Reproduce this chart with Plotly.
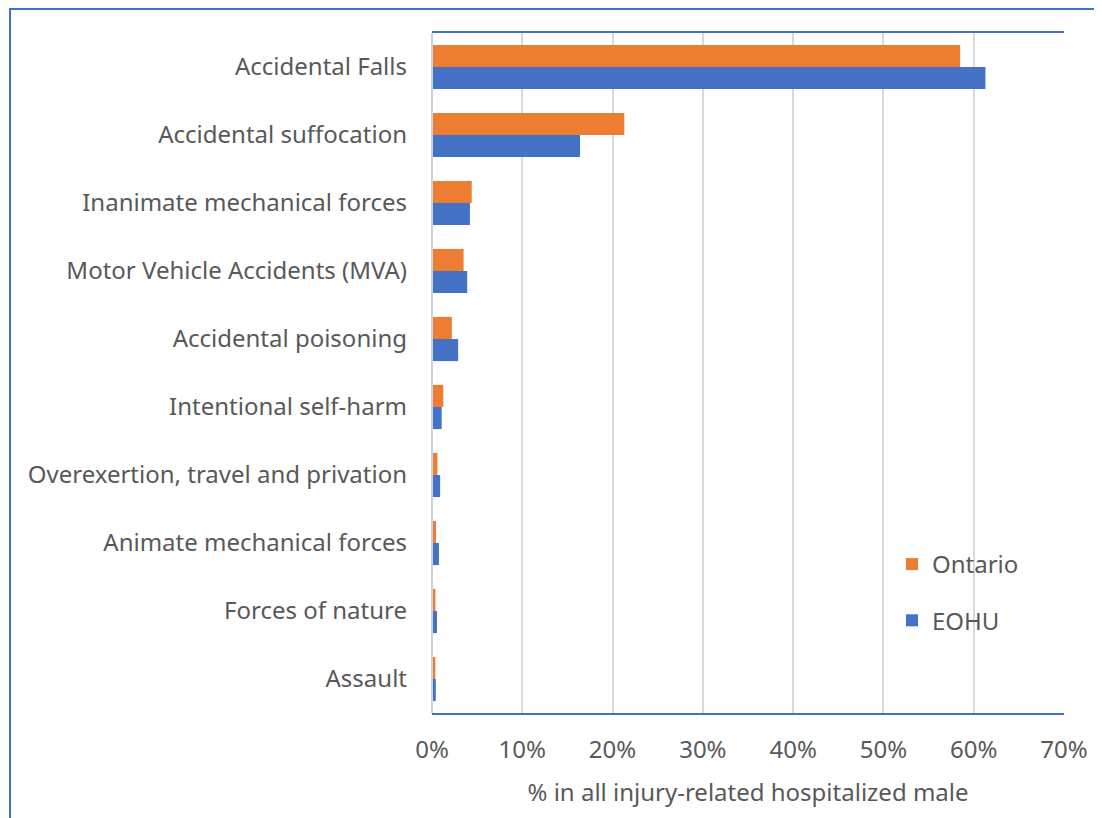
import plotly.graph_objects as go

categories = [
    "Accidental Falls",
    "Accidental suffocation",
    "Inanimate mechanical forces",
    "Motor Vehicle Accidents (MVA)",
    "Accidental poisoning",
    "Intentional self-harm",
    "Overexertion, travel and privation",
    "Animate mechanical forces",
    "Forces of nature",
    "Assault",
]
ontario = [58.5, 21.3, 4.4, 3.5, 2.2, 1.25, 0.6, 0.45, 0.38, 0.37]
eohu = [61.3, 16.4, 4.2, 3.9, 2.9, 1.07, 0.9, 0.77, 0.55, 0.42]
x_ticks = [0, 10, 20, 30, 40, 50, 60, 70]
x_tick_labels = ["0%", "10%", "20%", "30%", "40%", "50%", "60%", "70%"]

ORANGE = "#ED7D31"
BLUE = "#4472C4"
TXT = "#595959"
FONT = "Noto Sans"

OFF = 8  # page body margin offset
W, H = 1102 - OFF, 818 - OFF
L, R, T, B = 432 - OFF, 1064 - OFF, 33 - OFF, 713 - OFF

fig = go.Figure()
fig.add_trace(go.Bar(y=categories, x=ontario, orientation="h", name="Ontario",
                     marker=dict(color=ORANGE, line=dict(width=0)), legendgroup="a"))
fig.add_trace(go.Bar(y=categories, x=eohu, orientation="h", name="EOHU",
                     marker=dict(color=BLUE, line=dict(width=0)), legendgroup="b"))

pw, ph = R - L, B - T
def px(x):
    return (x - OFF - L) / pw
def py(y):
    return (B - (y - OFF)) / ph

fig.add_shape(type="rect", xref="paper", yref="paper",
              x0=px(10), x1=px(1120), y0=py(840), y1=py(9),
              line=dict(color=BLUE, width=2), layer="below")

fig.update_layout(
    width=W, height=H,
    margin=dict(l=L, r=W - R, t=T, b=H - B),
    paper_bgcolor="white", plot_bgcolor="white",
    barmode="group", bargap=0.35, bargroupgap=0,
    font=dict(family=FONT, size=24, color=TXT),
    legend=dict(x=px(892), y=py(542), xanchor="left", yanchor="top",
                font=dict(size=24, color=TXT), bgcolor="rgba(0,0,0,0)",
                tracegroupgap=22, itemwidth=30),
    xaxis=dict(range=[0, 70], tickvals=x_ticks, ticktext=x_tick_labels,
               showgrid=True, gridcolor="#D9D9D9", gridwidth=1.5,
               zeroline=False, showline=True, mirror=True,
               linecolor=BLUE, linewidth=1.5, ticks="",
               tickfont=dict(size=24, color=TXT), ticklabelstandoff=14,
               title=dict(text="% in all injury-related hospitalized male",
                          font=dict(size=24, color=TXT), standoff=21)),
    yaxis=dict(autorange="reversed", showgrid=False, showline=False, ticks="",
               tickfont=dict(size=24, color=TXT), ticklabelstandoff=24),
)
fig.add_shape(type="line", xref="paper", yref="paper", x0=0, x1=0, y0=0, y1=1,
              line=dict(color="#C9D3E3", width=2))

fig.write_html("out.html")
